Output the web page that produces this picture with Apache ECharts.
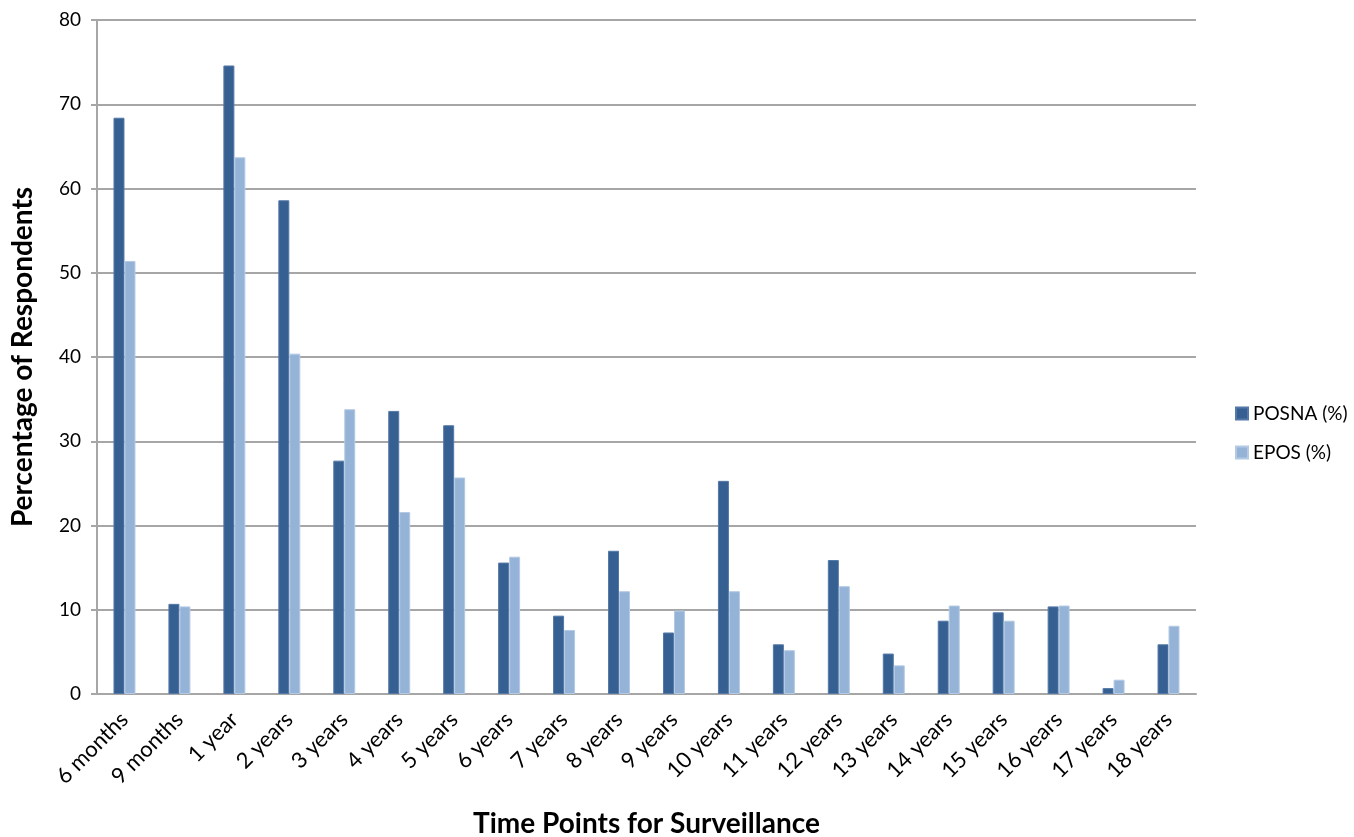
<!DOCTYPE html>
<html><head><meta charset="utf-8">
<script src="https://cdn.jsdelivr.net/npm/echarts@6/dist/echarts.min.js"></script>
<style>html,body{margin:0;padding:0;background:#fff}#c{width:1354px;height:837px}</style>
</head><body><div id="c"></div>
<script>
var categories = ["6 months","9 months","1 year","2 years","3 years","4 years","5 years","6 years","7 years","8 years","9 years","10 years","11 years","12 years","13 years","14 years","15 years","16 years","17 years","18 years"];
var posna = [68.4,10.7,74.6,58.6,27.7,33.6,31.9,15.6,9.3,17.0,7.3,25.3,5.9,15.9,4.8,8.7,9.7,10.4,0.7,5.9];
var epos = [51.4,10.4,63.7,40.4,33.8,21.6,25.7,16.3,7.6,12.2,9.9,12.2,5.2,12.8,3.4,10.5,8.7,10.5,1.7,8.1];
var yTicks = {min:0, max:80, interval:10};
var FONT = "Lato";
var chart = echarts.init(document.getElementById('c'));
chart.setOption({
  animation:false,
  textStyle:{fontFamily:FONT},
  grid:{left:97, right:158, top:20, bottom:143, containLabel:false, outerBoundsMode:'none'},
  legend:{
    orient:'vertical', left:1230, top:399, itemGap:20, itemWidth:12, itemHeight:12,
    icon:'rect',
    textStyle:{fontFamily:FONT, fontSize:19, color:'#000'},
    data:['POSNA (%)','EPOS (%)']
  },
  xAxis:{
    type:'category', data:categories,
    name:'Time Points for Surveillance', nameLocation:'middle', nameGap:116,
    nameTextStyle:{fontFamily:FONT, fontSize:28, fontWeight:'bold', color:'#000'},
    axisLine:{lineStyle:{color:'#a6a6a6', width:2}},
    axisTick:{show:false},
    axisLabel:{rotate:45, interval:0, fontSize:22, color:'#000', margin:22, fontFamily:FONT}
  },
  yAxis:{
    type:'value', min:yTicks.min, max:yTicks.max, interval:yTicks.interval,
    name:'Percentage of Respondents', nameLocation:'middle', nameGap:60, nameRotate:90,
    nameTextStyle:{fontFamily:FONT, fontSize:28, fontWeight:'bold', color:'#000'},
    axisLine:{show:true, lineStyle:{color:'#a6a6a6', width:2}},
    axisTick:{show:true, length:6, lineStyle:{color:'#a6a6a6', width:2}},
    axisLabel:{fontSize:19, color:'#000', margin:16, fontFamily:FONT},
    splitLine:{lineStyle:{color:'#a6a6a6', width:2}}
  },
  series:[
    {name:'POSNA (%)', type:'bar', data:posna, barGap:'0%', barCategoryGap:'60%',
     itemStyle:{color:'#376092', borderColor:'#5479a8', borderWidth:1}},
    {name:'EPOS (%)', type:'bar', data:epos, barGap:'0%', barCategoryGap:'60%',
     itemStyle:{color:'#95b3d7', borderColor:'#b4cae4', borderWidth:1}}
  ]
});
</script></body></html>
